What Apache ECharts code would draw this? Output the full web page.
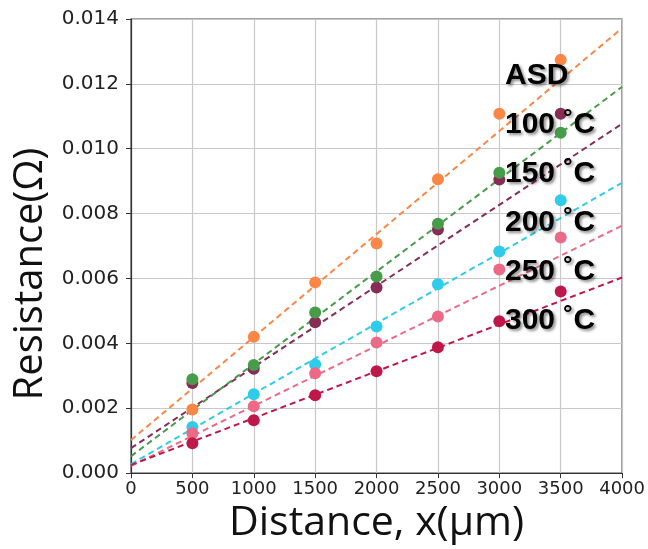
<!DOCTYPE html>
<html>
<head>
<meta charset="utf-8">
<script src="https://cdn.jsdelivr.net/npm/echarts@6/dist/echarts.min.js"></script>
<style>
  html, body { margin: 0; padding: 0; background: #fff; }
  #chart { width: 648px; height: 549px; }
</style>
</head>
<body>
<div id="chart"></div>
<script>
// 距离 (μm)
const distances = [500, 1000, 1500, 2000, 2500, 3000, 3500];
const seriesNames = ['ASD', '100 ˚C', '150 ˚C', '200 ˚C', '250 ˚C', '300 ˚C'];
const seriesColors = ['#fb8646', '#469c48', '#862c55', '#2ecbea', '#ec6a86', '#c0174b'];

// 实测电阻 (Ω)
const asdValues  = [0.00196, 0.00420, 0.00588, 0.00708, 0.00906, 0.01108, 0.01274];
const t100Values = [0.00289, 0.00333, 0.00495, 0.00606, 0.00769, 0.00926, 0.01049];
const t150Values = [0.00278, 0.00322, 0.00465, 0.00572, 0.00751, 0.00905, 0.01108];
const t200Values = [0.00142, 0.00243, 0.00335, 0.00452, 0.00582, 0.00683, 0.00841];
const t250Values = [0.00123, 0.00206, 0.00308, 0.00403, 0.00483, 0.00628, 0.00726];
const t300Values = [0.00092, 0.00163, 0.00240, 0.00314, 0.00388, 0.00468, 0.00560];

// 拟合直线端点 (x = 0 与 x = 4000)
const fitX = [0, 4000];
const fitAsd  = [0.00102, 0.01372];
const fit100  = [0.00052, 0.01191];
const fit150  = [0.00077, 0.01077];
const fit200  = [0.00028, 0.00895];
const fit250  = [0.00022, 0.00763];
const fit300  = [0.00025, 0.00603];

const yTicks = [0, 0.002, 0.004, 0.006, 0.008, 0.010, 0.012, 0.014];
const xTicks = [0, 500, 1000, 1500, 2000, 2500, 3000, 3500, 4000];

const pointSets = [asdValues, t100Values, t150Values, t200Values, t250Values, t300Values];
const fitSets = [fitAsd, fit100, fit150, fit200, fit250, fit300];
// 绘制顺序 (后画的在上面)
const drawOrder = [0, 2, 1, 3, 4, 5];

const chart = echarts.init(document.getElementById('chart'));

const series = [];
drawOrder.forEach(i => {
  series.push({
    name: seriesNames[i],
    type: 'line',
    data: fitX.map((x, k) => [x, fitSets[i][k]]),
    symbol: 'none',
    lineStyle: { color: seriesColors[i], width: 2, type: [6, 4] },
    itemStyle: { color: seriesColors[i] },
    silent: true,
    z: 2
  });
});
drawOrder.forEach(i => {
  series.push({
    name: seriesNames[i],
    type: 'scatter',
    data: distances.map((x, k) => [x, pointSets[i][k]]),
    symbolSize: 12,
    itemStyle: { color: seriesColors[i], opacity: 1 },
    z: 3
  });
});

const option = {
  animation: false,
  backgroundColor: '#fff',
  grid: {
    left: 131, right: 25, top: 19, bottom: 75,
    show: true, borderColor: '#444', borderWidth: 1.2
  },
  legend: {
    data: seriesNames,
    orient: 'vertical',
    left: 495,
    top: 56,
    icon: 'none',
    itemWidth: 0,
    itemHeight: 30,
    itemGap: 19,
    selectedMode: false,
    textStyle: {
      fontFamily: 'Liberation Sans, Arial, sans-serif',
      fontWeight: 'bold',
      fontSize: 30,
      color: '#000',
      textShadowColor: 'rgba(0,0,0,0.45)',
      textShadowBlur: 3,
      textShadowOffsetX: 2,
      textShadowOffsetY: 2
    }
  },
  xAxis: {
    type: 'value',
    min: xTicks[0],
    max: xTicks[xTicks.length - 1],
    interval: 500,
    name: 'Distance, x(μm)',
    nameLocation: 'middle',
    nameGap: 27,
    nameTextStyle: { fontFamily: 'Open Sans, sans-serif', fontSize: 41, color: '#111' },
    axisLine: { show: true, lineStyle: { color: '#333', width: 1.2 } },
    axisTick: { show: true, inside: false, length: 5, lineStyle: { color: '#333' } },
    axisLabel: {
      fontFamily: 'DejaVu Sans, sans-serif', fontSize: 18, color: '#222', margin: 7,
      formatter: v => String(v)
    },
    splitLine: { show: true, lineStyle: { color: '#c8c8c8', width: 1.2 } }
  },
  yAxis: {
    type: 'value',
    min: yTicks[0],
    max: yTicks[yTicks.length - 1],
    interval: 0.002,
    name: 'Resistance(Ω)',
    nameLocation: 'middle',
    nameGap: 80,
    nameTextStyle: {
      fontFamily: 'Open Sans, sans-serif', fontSize: 40, color: '#111',
      padding: [0, 56, 0, 0]
    },
    axisLine: { show: true, lineStyle: { color: '#333', width: 1.2 } },
    axisTick: { show: true, inside: false, length: 5, lineStyle: { color: '#333' } },
    axisLabel: {
      fontFamily: 'DejaVu Sans, sans-serif', fontSize: 20, color: '#222', margin: 12,
      formatter: v => v.toFixed(3)
    },
    splitLine: { show: true, lineStyle: { color: '#c8c8c8', width: 1.2 } }
  },
  series: series
};

chart.setOption(option);
</script>
</body>
</html>
